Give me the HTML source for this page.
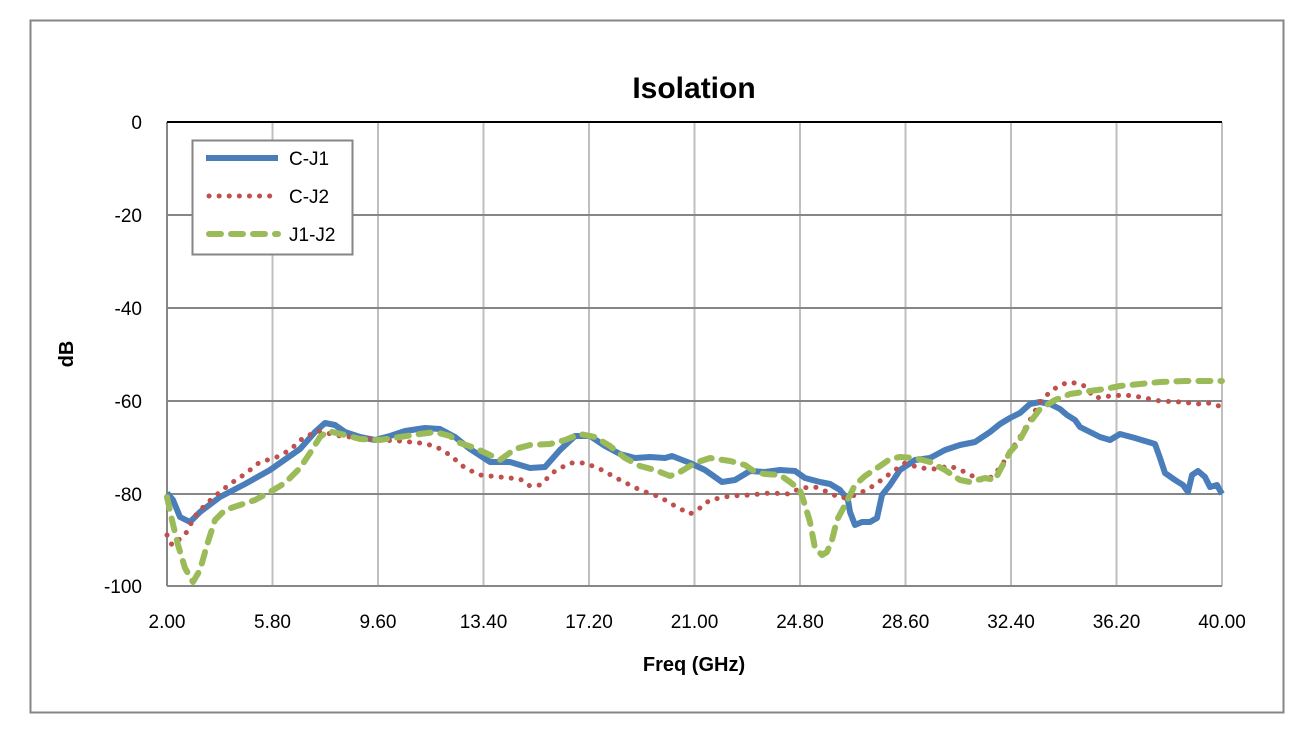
<!DOCTYPE html>
<html><head><meta charset="utf-8"><style>
body{margin:0;background:#fff;}
svg{display:block;font-family:"Liberation Sans",Arial,sans-serif;}
</style></head><body>
<svg width="1314" height="739" viewBox="0 0 1314 739">
<rect x="0" y="0" width="1314" height="739" fill="#fff"/>
<rect x="30.5" y="20.5" width="1253" height="692" fill="none" stroke="#868686" stroke-width="2"/>
<text x="694" y="98" font-size="30" font-weight="bold" text-anchor="middle">Isolation</text>
<g stroke="#bfbfbf" stroke-width="2">
<line x1="272.5" y1="122" x2="272.5" y2="586"/><line x1="378" y1="122" x2="378" y2="586"/>
<line x1="483.5" y1="122" x2="483.5" y2="586"/><line x1="589" y1="122" x2="589" y2="586"/>
<line x1="694.5" y1="122" x2="694.5" y2="586"/><line x1="800" y1="122" x2="800" y2="586"/>
<line x1="905.5" y1="122" x2="905.5" y2="586"/><line x1="1011" y1="122" x2="1011" y2="586"/>
<line x1="1116.5" y1="122" x2="1116.5" y2="586"/><line x1="1222" y1="122" x2="1222" y2="586"/>
</g>
<g stroke="#868686" stroke-width="2">
<line x1="167" y1="215" x2="1222" y2="215"/><line x1="167" y1="308" x2="1222" y2="308"/>
<line x1="167" y1="401" x2="1222" y2="401"/><line x1="167" y1="494" x2="1222" y2="494"/>
<line x1="167" y1="586" x2="1222" y2="586"/><line x1="167" y1="122" x2="167" y2="586"/>
</g>
<line x1="167" y1="122" x2="1222" y2="122" stroke="#000" stroke-width="2"/>
<g font-size="19" text-anchor="end">
<text x="142" y="129">0</text><text x="142" y="222">-20</text><text x="142" y="315">-40</text>
<text x="142" y="408">-60</text><text x="142" y="501">-80</text><text x="142" y="593">-100</text>
</g>
<g font-size="19" text-anchor="middle">
<text x="167" y="628">2.00</text><text x="272.5" y="628">5.80</text><text x="378" y="628">9.60</text>
<text x="483.5" y="628">13.40</text><text x="589" y="628">17.20</text><text x="694.5" y="628">21.00</text>
<text x="800" y="628">24.80</text><text x="905.5" y="628">28.60</text><text x="1011" y="628">32.40</text>
<text x="1116.5" y="628">36.20</text><text x="1222" y="628">40.00</text>
</g>
<text x="694" y="671" font-size="20" font-weight="bold" text-anchor="middle">Freq (GHz)</text>
<text transform="translate(73,354) rotate(-90)" font-size="20" font-weight="bold" text-anchor="middle">dB</text>
<g fill="none" stroke-linejoin="round">
<polyline stroke="#4a7ebb" stroke-width="6" points="167,493 173,500 180,517 190,522 200,512 220,497 245,484 270,470 300,449 315,432 325,423 335,425 345,432 360,437 375,440 390,436 405,431 425,428 440,429 455,437 470,449 490,462 510,462 530,468 545,467 560,450 575,436 590,436 605,446 620,454 635,458 650,457 665,458 672,456 690,463 705,470 722,482 735,480 750,471 765,472 780,470 795,471 805,478 820,482 830,484 840,490 848,500 850,512 855,525 862,522 870,522 877,518 882,495 890,485 900,470 915,460 930,458 945,450 960,445 975,442 990,432 1000,424 1010,418 1020,413 1030,404 1040,402 1050,404 1060,409 1067,415 1075,420 1080,427 1090,432 1100,437 1110,440 1120,434 1135,438 1145,441 1155,444 1160,458 1165,473 1175,480 1183,485 1188,492 1192,475 1198,471 1205,477 1210,487 1217,485 1222,494"/>
<polyline stroke="#c0504d" stroke-width="5" stroke-linecap="round" stroke-dasharray="0.1 10" points="167,535 172,545 185,535 195,516 205,505 215,496 230,484 245,474 260,462 275,458 290,450 303,438 318,431 340,436 360,438 380,440 400,441 420,443 435,446 450,455 465,468 480,475 500,477 520,479 530,486 540,485 555,471 570,463 585,463 600,469 620,480 640,490 660,497 675,506 690,514 700,508 710,500 730,496 750,495 770,493 790,494 800,488 815,487 830,493 840,498 850,497 860,493 870,488 880,481 895,470 905,463 920,468 935,469 950,466 965,472 980,480 990,478 1000,468 1010,452 1020,437 1030,420 1040,402 1050,392 1060,385 1070,382 1083,385 1095,398 1110,396 1125,395 1140,397 1160,401 1180,402 1200,404 1210,403 1222,407"/>
<polyline stroke="#9bbb59" stroke-width="6" stroke-linecap="round" stroke-dasharray="12 10" points="167,497 172,520 178,545 185,568 193,582 200,570 207,545 215,520 225,510 240,505 255,500 270,492 285,483 300,468 310,453 320,437 328,431 345,435 360,439 380,440 400,437 420,434 435,432 450,436 460,443 475,448 490,455 500,460 515,449 530,445 550,444 565,440 580,434 595,437 610,446 625,458 640,466 655,470 670,476 680,472 695,463 710,458 730,461 745,465 755,472 765,474 780,475 790,482 800,490 805,505 810,522 815,548 822,555 827,552 832,540 837,520 845,505 855,485 865,476 880,466 890,459 900,457 915,458 930,462 945,470 960,480 970,482 985,478 995,480 1000,470 1010,452 1018,443 1028,425 1040,409 1055,400 1070,394 1090,391 1105,389 1120,386 1140,384 1160,382 1185,381 1222,381"/>
</g>
<rect x="192.5" y="140.5" width="160" height="114" fill="#fff" stroke="#868686" stroke-width="2"/>
<line x1="206" y1="158" x2="278" y2="158" stroke="#4a7ebb" stroke-width="6"/>
<line x1="209" y1="196" x2="278" y2="196" stroke="#c0504d" stroke-width="5" stroke-linecap="round" stroke-dasharray="0.1 10"/>
<line x1="209" y1="234" x2="278" y2="234" stroke="#9bbb59" stroke-width="6" stroke-linecap="round" stroke-dasharray="12 10"/>
<g font-size="19"><text x="289" y="165">C-J1</text><text x="289" y="203">C-J2</text><text x="289" y="241">J1-J2</text></g>
</svg>
</body></html>
